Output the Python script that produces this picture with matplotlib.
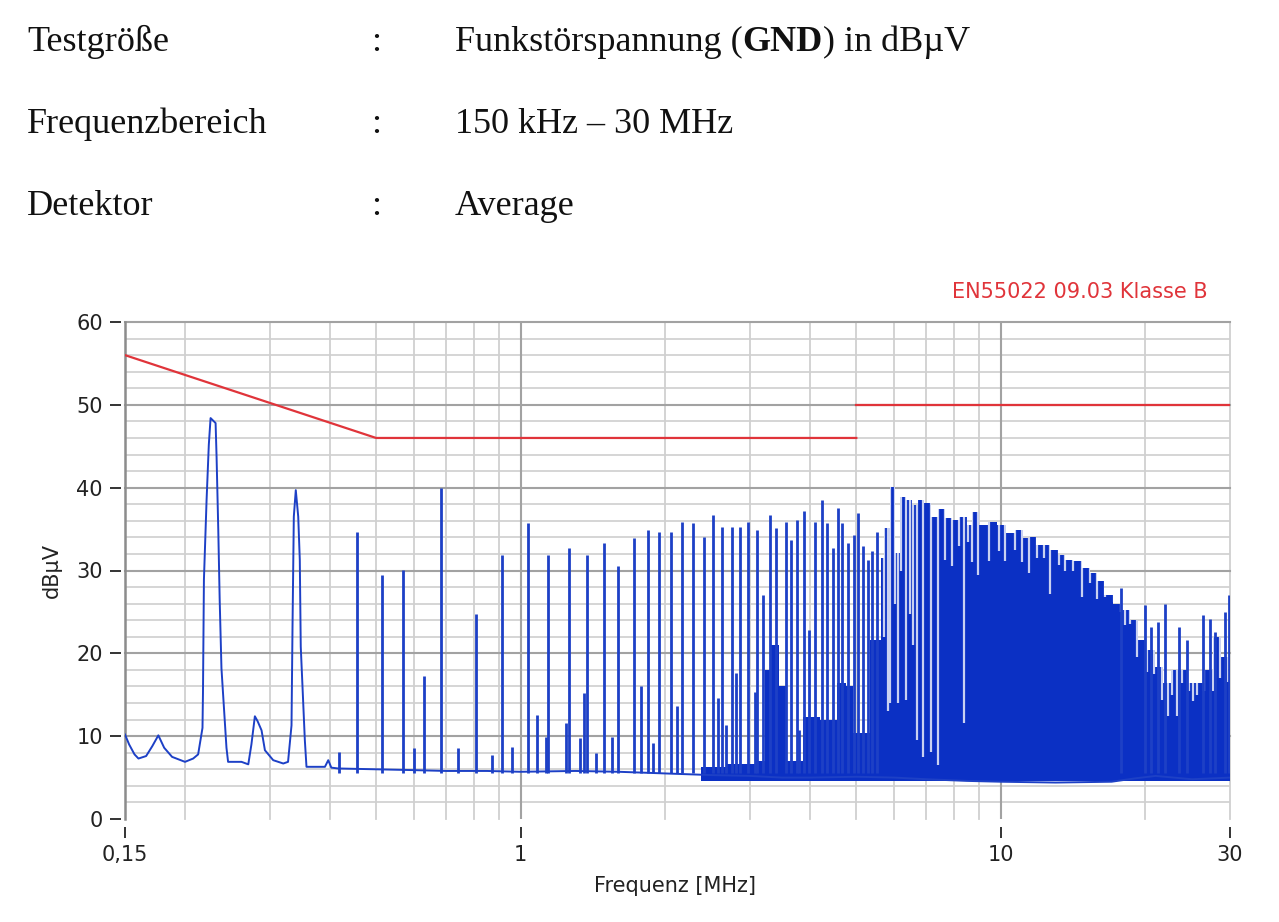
import numpy as np
import matplotlib
matplotlib.use("Agg")
import matplotlib.pyplot as plt

W, H = 1279, 922
SERIF = "Liberation Serif"
SANS = "DejaVu Sans"
BLUE = "#1d40c6"
FILL = "#0b30c4"
NOTCH = "#c9d1f1"
RED = "#e0343a"

# ---- header ----
HEAD_KEYS = ["Testgröße", "Frequenzbereich", "Detektor"]
HEAD_VALS = [["Funkstörspannung (", "GND", ") in dBµV"], ["150 kHz – 30 MHz"], ["Average"]]

# ---- measured trace (MHz, dBµV) ----
floor_f = [0.150, 0.153, 0.157, 0.160, 0.166, 0.171, 0.176, 0.181, 0.188, 0.200, 0.208, 0.213,
           0.2175, 0.2180, 0.2190, 0.2218, 0.2242, 0.2261, 0.2316, 0.2327, 0.2346, 0.2362, 0.2382,
           0.2440, 0.2459, 0.2622, 0.2709, 0.2750, 0.2796, 0.2833, 0.2887, 0.2934, 0.3053, 0.3204,
           0.3278, 0.3333, 0.3349, 0.3370, 0.3402, 0.3442, 0.3468, 0.3484, 0.3553, 0.3581, 0.3912,
           0.3975, 0.4034, 0.4168, 0.50, 0.60, 0.70, 0.85, 1.0, 1.3, 1.6, 2.0, 2.5, 3.0, 3.5, 4.0,
           5.0, 6.0, 7.0, 8.5, 10.0, 13.0, 17.0, 19.0, 21.0, 25.0, 30.0]
floor_db = [10.2, 9.0, 7.8, 7.3, 7.6, 8.8, 10.1, 8.6, 7.5, 6.9, 7.3, 7.8,
            11.0, 15.2, 28.9, 38.5, 45.2, 48.4, 47.8, 43.7, 34.9, 26.4, 18.2,
            8.6, 6.9, 6.9, 6.6, 9.0, 12.4, 11.8, 10.7, 8.3, 7.1, 6.7,
            6.9, 11.3, 23.2, 36.5, 39.7, 36.5, 31.3, 20.8, 9.5, 6.3, 6.3,
            7.1, 6.2, 6.1, 6.0, 5.9, 5.8, 5.8, 5.7, 5.8, 5.7, 5.5, 5.3, 5.2, 5.0, 5.0,
            5.1, 5.0, 4.8, 4.6, 4.5, 4.4, 4.5, 4.9, 5.2, 4.8, 5.0]

# isolated harmonic spikes
spike_f = [0.418, 0.457, 0.515, 0.570, 0.600, 0.629, 0.684, 0.742, 0.806, 0.870, 0.916, 0.958,
           1.034, 1.080, 1.127, 1.142, 1.241, 1.259, 1.329, 1.357, 1.375, 1.433, 1.494, 1.548,
           1.597, 1.722, 1.779, 1.839, 1.890, 1.942, 2.054, 2.120, 2.168, 2.286, 2.414, 2.519,
           2.570, 2.630, 2.680, 2.754, 2.810, 2.866, 2.970, 3.070, 3.100, 3.200, 3.310, 3.410,
           3.565, 3.650, 3.770, 3.790, 3.890, 3.980, 4.105, 4.250, 4.340, 4.480, 4.580, 4.670,
           4.800, 4.950, 5.050, 5.170, 5.280, 5.400, 5.520,
           17.8, 19.93, 20.54, 21.24, 21.93, 23.45, 24.41, 26.36, 27.21, 27.96, 29.33, 29.85]
spike_db = [8.1, 34.7, 29.5, 30.1, 8.6, 17.3, 39.9, 8.6, 24.7, 7.7, 31.9, 8.7,
            35.7, 12.6, 9.9, 31.9, 11.6, 32.7, 9.8, 15.2, 31.9, 8.0, 33.3, 9.9,
            30.6, 33.9, 16.0, 34.9, 9.2, 34.7, 34.7, 13.6, 35.9, 35.7, 34.1, 36.7,
            14.6, 35.3, 11.3, 35.3, 17.6, 35.3, 35.9, 15.3, 34.9, 27.0, 36.7, 35.1,
            35.9, 33.7, 36.1, 10.8, 37.2, 22.8, 35.9, 38.5, 35.7, 32.7, 37.5, 35.7,
            33.3, 34.3, 36.9, 33.0, 31.3, 32.3, 34.6,
            27.9, 25.8, 23.2, 23.8, 26.0, 23.2, 21.6, 24.6, 24.2, 22.6, 25.0, 27.0]

# solid mass of dense harmonics (top edge)
body_f = [2.38, 3.0, 3.178, 3.287, 3.366, 3.548, 3.617, 3.849, 3.905, 4.510, 4.619, 4.893,
          4.940, 5.309, 5.386, 5.596, 5.650, 5.768, 5.957, 6.072, 6.250, 6.423, 6.630, 6.791,
          7.046, 7.242, 7.537, 7.781, 8.032, 8.333, 8.630, 8.799, 9.204, 9.578, 10.05, 10.45,
          10.97, 11.24, 11.60, 12.07, 12.47, 12.88, 13.40, 13.84, 14.40, 15.11, 15.61, 16.10,
          16.77, 17.45, 18.16, 18.90, 19.67, 20.47, 21.31, 22.18, 23.08, 24.03, 25.00, 26.02,
          27.08, 28.18, 29.33, 30.0]
body_db = [6.3, 6.6, 7.0, 18.0, 21.0, 16.0, 7.0, 7.0, 12.3, 12.0, 16.4, 16.0,
           10.4, 10.4, 21.6, 21.6, 31.5, 35.1, 40.1, 32.1, 38.9, 38.5, 37.9, 38.5,
           38.2, 36.5, 37.4, 36.3, 36.1, 36.5, 35.5, 37.1, 35.5, 35.8, 35.5, 34.5,
           34.9, 33.9, 34.1, 33.1, 33.1, 32.5, 31.9, 31.3, 31.1, 30.3, 29.7, 28.7,
           27.0, 26.0, 25.2, 24.0, 21.6, 20.4, 18.4, 16.4, 18.0, 18.0, 16.4, 16.4,
           18.0, 22.0, 19.6, 16.8]

# gaps between harmonics inside the solid mass (bottom of gap)
notch_f = [5.71, 5.82, 5.88, 6.01, 6.12, 6.20, 6.35, 6.47, 6.56, 6.68, 6.90, 7.15, 7.38, 7.64,
           7.90, 8.18, 8.38, 8.55, 8.72, 8.98, 9.43, 9.89, 10.21, 10.69, 11.05, 11.42, 11.89,
           12.29, 12.67, 13.19, 13.60, 14.11, 14.75, 15.32, 15.85, 16.47, 17.17, 17.78, 18.10,
           18.58, 19.20, 20.15, 20.84, 21.65, 22.28, 22.70, 23.26, 23.83, 24.60, 25.08, 25.60,
           26.50, 27.65, 28.59, 29.71]
notch_db = [22.0, 13.0, 14.0, 26.0, 14.0, 30.0, 14.4, 24.8, 21.0, 9.5, 7.5, 8.1, 6.5, 31.3,
            30.5, 33.0, 11.6, 33.5, 31.0, 29.5, 31.1, 32.3, 31.1, 32.5, 31.0, 29.7, 31.5,
            31.5, 27.2, 30.7, 30.0, 30.0, 26.8, 28.5, 26.6, 26.8, 26.2, 25.0, 23.4,
            23.5, 19.5, 17.8, 17.5, 14.4, 12.4, 15.0, 12.4, 16.4, 15.5, 14.2, 15.0,
            15.5, 15.5, 17.0, 16.5]

# EN55022 class B average limit
lim1_f, lim1_db = [0.15, 0.5, 5.0], [56, 46, 46]
lim2_f, lim2_db = [5.0, 30.0], [50, 50]

XTICKS = [0.15, 1, 10, 30]
XTICKLABELS = ["0,15", "1", "10", "30"]
GRID_X_MAJOR = [1, 10]
GRID_X_MINOR = [0.2, 0.3, 0.4, 0.5, 0.6, 0.7, 0.8, 0.9, 2, 3, 4, 5, 6, 7, 8, 9, 20, 30]

fig = plt.figure(figsize=(W / 100, H / 100), dpi=100)
fig.patch.set_facecolor("white")
ax = fig.add_axes([125 / W, 1 - 819 / H, (1230 - 125) / W, (819 - 322) / H])

# header block
base_y = [51, 133, 215]
for key, val, by in zip(HEAD_KEYS, HEAD_VALS, base_y):
    yy = 1 - by / H
    fig.text(27 / W, yy, key, family=SERIF, size=26, va="baseline", color="#111")
    fig.text(376 / W, yy, ":", family=SERIF, size=26, va="baseline", ha="center", color="#111")
    prev = fig.text(455 / W, yy, val[0], family=SERIF, size=26, va="baseline", color="#111")
    for k, piece in enumerate(val[1:]):
        prev = ax.annotate(piece, xy=(1, 0), xycoords=prev, va="bottom", ha="left",
                           family=SERIF, size=26, fontweight="bold" if k == 0 else "normal",
                           color="#111", annotation_clip=False)

ax.set_xscale("log")
ax.set_xlim(0.15, 30)
ax.set_ylim(0, 60)

# grid
for v in np.arange(2, 60, 2):
    if v % 10:
        ax.axhline(v, color="#d2d2d2", lw=1.3, zorder=0.5)
for v in range(10, 61, 10):
    ax.axhline(v, color="#a2a2a2", lw=1.5, zorder=0.6, clip_on=False)
for v in GRID_X_MINOR:
    ax.axvline(v, color="#d0d0d0", lw=1.3, zorder=0.5, clip_on=False)
for v in GRID_X_MAJOR:
    ax.axvline(v, color="#a2a2a2", lw=1.5, zorder=0.6)
ax.axvline(0.15, color="#8c8c8c", lw=1.8, zorder=0.7, clip_on=False)

# trace
body = ax.fill_between(body_f, 4.6, body_db, step="mid", color=FILL, lw=0, zorder=2)
gaps = ax.vlines(notch_f, notch_db, 60, color=NOTCH, lw=1.6, zorder=2.2)
gaps.set_clip_path(body.get_paths()[0], ax.transData)
ax.vlines(spike_f, 5.6, spike_db, color=BLUE, lw=2.0, zorder=2.4)
ax.plot(floor_f, floor_db, color=BLUE, lw=1.4, zorder=2.5)

# limits
ax.plot(lim1_f, lim1_db, color=RED, lw=1.6, zorder=3)
ax.plot(lim2_f, lim2_db, color=RED, lw=1.6, zorder=3)

# axes styling
for s in ("top", "right", "bottom", "left"):
    ax.spines[s].set_visible(False)
ax.spines["bottom"].set_position(("outward", 6))
ax.spines["left"].set_position(("outward", 3))
ax.set_xticks(XTICKS, XTICKLABELS)
ax.xaxis.set_minor_locator(matplotlib.ticker.NullLocator())
ax.set_yticks(range(0, 61, 10))
ax.tick_params(axis="both", direction="out", length=8, width=1.4, color="#333",
               labelsize=15, labelcolor="#222", pad=5)
for lab in ax.get_xticklabels() + ax.get_yticklabels():
    lab.set_family(SANS)

fig.text(52 / W, 1 - 570 / H, "dBµV", rotation=90, ha="center", va="center",
         family=SANS, size=15, color="#222")
fig.text(675 / W, 1 - 886 / H, "Frequenz [MHz]", ha="center", va="center",
         family=SANS, size=15, color="#222")
fig.text(1208 / W, 1 - 292 / H, "EN55022 09.03 Klasse B", ha="right", va="center",
         family=SANS, size=15, color=RED)

fig.savefig("out.png", dpi=100)
